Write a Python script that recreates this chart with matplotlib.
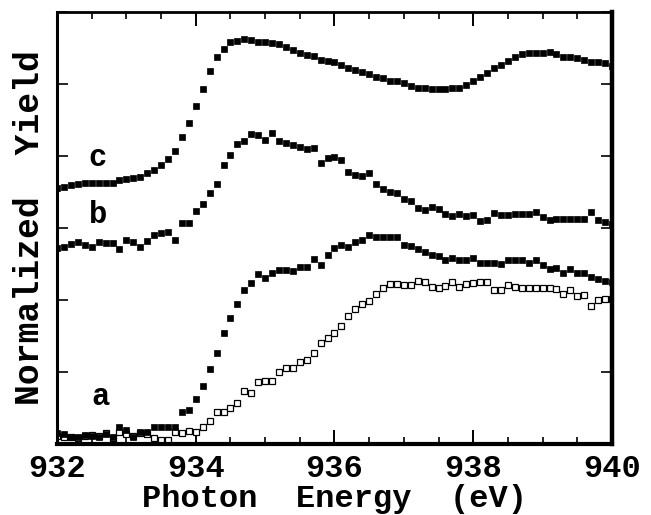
import numpy as np
import matplotlib
matplotlib.use("Agg")
import matplotlib.pyplot as plt
from matplotlib.ticker import MultipleLocator

# Photon energy grid (eV), 0.1 eV steps
energy = np.linspace(932.0, 940.0, 81)

curve_c = [3.56, 3.57, 3.60, 3.61, 3.62, 3.62, 3.63, 3.63, 3.63, 3.67,
           3.68, 3.69, 3.71, 3.77, 3.81, 3.88, 3.96, 4.07, 4.26, 4.46,
           4.69, 4.93, 5.18, 5.37, 5.48, 5.58, 5.60, 5.63, 5.61, 5.59,
           5.59, 5.57, 5.56, 5.51, 5.47, 5.43, 5.40, 5.39, 5.34, 5.32,
           5.30, 5.26, 5.22, 5.19, 5.16, 5.14, 5.10, 5.08, 5.04, 5.04,
           5.01, 4.97, 4.95, 4.95, 4.93, 4.93, 4.93, 4.94, 4.95, 4.99,
           5.04, 5.10, 5.15, 5.22, 5.27, 5.32, 5.37, 5.42, 5.43, 5.43,
           5.43, 5.44, 5.42, 5.38, 5.37, 5.36, 5.33, 5.31, 5.31, 5.29,
           5.25]

curve_b = [2.72, 2.73, 2.78, 2.80, 2.76, 2.74, 2.81, 2.79, 2.79, 2.71,
           2.83, 2.80, 2.74, 2.82, 2.90, 2.93, 2.95, 2.84, 3.07, 3.07,
           3.23, 3.33, 3.49, 3.61, 3.88, 4.02, 4.16, 4.21, 4.31, 4.29,
           4.22, 4.32, 4.21, 4.18, 4.15, 4.13, 4.10, 4.11, 3.90, 3.97,
           3.99, 3.94, 3.78, 3.74, 3.72, 3.76, 3.61, 3.54, 3.50, 3.49,
           3.40, 3.38, 3.28, 3.25, 3.29, 3.27, 3.19, 3.17, 3.20, 3.17,
           3.18, 3.10, 3.11, 3.21, 3.18, 3.18, 3.20, 3.19, 3.19, 3.22,
           3.15, 3.11, 3.13, 3.13, 3.12, 3.13, 3.13, 3.22, 3.11, 3.08,
           3.05]

curve_a_filled = [0.15, 0.14, 0.10, 0.10, 0.13, 0.11, 0.10, 0.14, 0.10, 0.24,
                  0.19, 0.10, 0.17, 0.17, 0.24, 0.24, 0.24, 0.24, 0.45, 0.47,
                  0.62, 0.81, 1.04, 1.27, 1.54, 1.75, 1.94, 2.14, 2.23, 2.36,
                  2.30, 2.38, 2.42, 2.42, 2.40, 2.46, 2.46, 2.57, 2.49, 2.63,
                  2.72, 2.76, 2.74, 2.80, 2.83, 2.90, 2.87, 2.87, 2.87, 2.87,
                  2.76, 2.75, 2.71, 2.66, 2.63, 2.61, 2.56, 2.58, 2.55, 2.56,
                  2.58, 2.52, 2.52, 2.52, 2.50, 2.55, 2.55, 2.56, 2.52, 2.55,
                  2.48, 2.43, 2.44, 2.38, 2.43, 2.37, 2.38, 2.32, 2.29, 2.26,
                  2.25]

curve_a_open = [0.11, 0.10, 0.10, 0.08, 0.11, 0.13, 0.11, 0.15, 0.08, 0.17,
                0.14, 0.11, 0.15, 0.14, 0.09, 0.06, 0.06, 0.16, 0.15, 0.18,
                0.17, 0.24, 0.32, 0.44, 0.45, 0.50, 0.57, 0.73, 0.71, 0.86,
                0.87, 0.87, 1.00, 1.05, 1.05, 1.14, 1.17, 1.27, 1.40, 1.47,
                1.54, 1.64, 1.78, 1.88, 1.94, 1.98, 2.09, 2.16, 2.22, 2.22,
                2.21, 2.21, 2.26, 2.25, 2.18, 2.16, 2.19, 2.25, 2.18, 2.22,
                2.23, 2.25, 2.25, 2.14, 2.14, 2.21, 2.18, 2.17, 2.16, 2.16,
                2.16, 2.16, 2.15, 2.08, 2.14, 2.05, 2.07, 1.92, 2.00, 2.01,
                2.02]

curve_labels = ["a", "b", "c"]
label_x = [932.62, 932.59, 932.59]
label_y = [0.65, 3.18, 3.97]

xticks = [932, 934, 936, 938, 940]

FONT = "Liberation Mono"

fig = plt.figure(figsize=(6.51, 5.15), dpi=100)
ax = fig.add_axes([0.0876, 0.1379, 0.8524, 0.8388])

ms = 3.8
ax.plot(energy, curve_a_open, ls="none", marker="s", ms=4.1, mfc="white",
        mec="black", mew=0.9)
ax.plot(energy, curve_a_filled, ls="none", marker="s", ms=ms, mfc="black",
        mec="black", mew=0.5)
ax.plot(energy, curve_b, ls="none", marker="s", ms=ms, mfc="black",
        mec="black", mew=0.5)
ax.plot(energy, curve_c, ls="none", marker="s", ms=ms, mfc="black",
        mec="black", mew=0.5)

for t, x, y in zip(curve_labels, label_x, label_y):
    ax.text(x, y, t, family=FONT, weight="bold", fontsize=22,
            ha="center", va="center")

ax.set_xlim(932, 940)
ax.set_ylim(0, 6)
ax.set_xticks(xticks)
ax.xaxis.set_minor_locator(MultipleLocator(0.5))
ax.yaxis.set_major_locator(MultipleLocator(1))
ax.tick_params(axis="x", which="major", direction="in", length=10, width=1.4,
               top=True, labelsize=23, pad=7)
ax.tick_params(axis="x", which="minor", direction="in", length=5, width=1.2,
               top=True)
ax.tick_params(axis="y", which="major", direction="in", length=8, width=1.2,
               right=True, labelleft=False)
for lab in ax.get_xticklabels():
    lab.set_family(FONT)
    lab.set_weight("bold")

for side, lw in [("top", 2.0), ("left", 2.2), ("bottom", 3.0), ("right", 3.2)]:
    ax.spines[side].set_linewidth(lw)

ax.set_xlabel("Photon  Energy  (eV)", family=FONT, weight="bold",
              fontsize=23)
ax.xaxis.set_label_coords(0.5, -0.092)
ax.set_ylabel("Normalized  Yield", family=FONT, weight="bold", fontsize=25,
              labelpad=8)

fig.savefig("out.png", dpi=100)
